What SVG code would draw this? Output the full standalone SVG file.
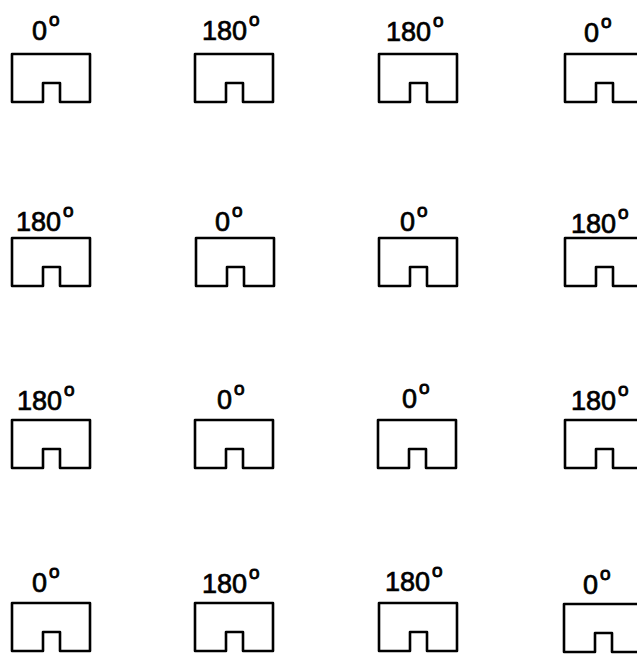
<svg xmlns="http://www.w3.org/2000/svg" xmlns:xlink="http://www.w3.org/1999/xlink" width="637" height="654" viewBox="0 0 637 654">
<style>
.b{fill:none;stroke:#000;stroke-width:2.6;stroke-linejoin:round}
.d{font-family:"Liberation Sans",Arial,sans-serif;font-size:27px;fill:#000;stroke:#000;stroke-width:0.7}
.s{font-family:"Liberation Sans",Arial,sans-serif;font-size:19px;fill:#000;stroke:#000;stroke-width:0.9}
</style>
<defs>
<path id="box" class="b" d="M0,48 V0 H78 V48 H48 V29 H31 V48 Z"/>
</defs>
<rect width="637" height="654" fill="#fff"/>
<g id="r1c1"><use xlink:href="#box" x="12" y="54"/><text class="d" x="32" y="40">0</text><text class="s" x="49" y="26">o</text></g>
<g id="r1c2"><use xlink:href="#box" x="195" y="54"/><text class="d" x="202" y="40">180</text><text class="s" x="249" y="26">o</text></g>
<g id="r1c3"><use xlink:href="#box" x="379" y="54"/><text class="d" x="386" y="41">180</text><text class="s" x="433" y="27">o</text></g>
<g id="r1c4"><use xlink:href="#box" x="565" y="54"/><text class="d" x="584" y="42">0</text><text class="s" x="601" y="28">o</text></g>

<g id="r2c1"><use xlink:href="#box" x="12" y="238"/><text class="d" x="16" y="231">180</text><text class="s" x="63" y="217">o</text></g>
<g id="r2c2"><use xlink:href="#box" x="196" y="238"/><text class="d" x="215" y="231">0</text><text class="s" x="232" y="217">o</text></g>
<g id="r2c3"><use xlink:href="#box" x="379" y="238"/><text class="d" x="400" y="231">0</text><text class="s" x="417" y="217">o</text></g>
<g id="r2c4"><use xlink:href="#box" x="565" y="238"/><text class="d" x="571" y="233">180</text><text class="s" x="618" y="219">o</text></g>

<g id="r3c1"><use xlink:href="#box" x="12" y="420"/><text class="d" x="17" y="410">180</text><text class="s" x="64" y="396">o</text></g>
<g id="r3c2"><use xlink:href="#box" x="195" y="420"/><text class="d" x="217" y="409">0</text><text class="s" x="234" y="395">o</text></g>
<g id="r3c3"><use xlink:href="#box" x="378" y="420"/><text class="d" x="402" y="408">0</text><text class="s" x="419" y="394">o</text></g>
<g id="r3c4"><use xlink:href="#box" x="565" y="420"/><text class="d" x="571" y="410">180</text><text class="s" x="618" y="396">o</text></g>

<g id="r4c1"><use xlink:href="#box" x="12" y="603"/><text class="d" x="32" y="592">0</text><text class="s" x="49" y="578">o</text></g>
<g id="r4c2"><use xlink:href="#box" x="195" y="603"/><text class="d" x="202" y="593">180</text><text class="s" x="249" y="579">o</text></g>
<g id="r4c3"><use xlink:href="#box" x="379" y="603"/><text class="d" x="385" y="591">180</text><text class="s" x="432" y="577">o</text></g>
<g id="r4c4"><use xlink:href="#box" x="564" y="604"/><text class="d" x="583" y="594">0</text><text class="s" x="600" y="580">o</text></g>
<g id="connectors"/>
</svg>
